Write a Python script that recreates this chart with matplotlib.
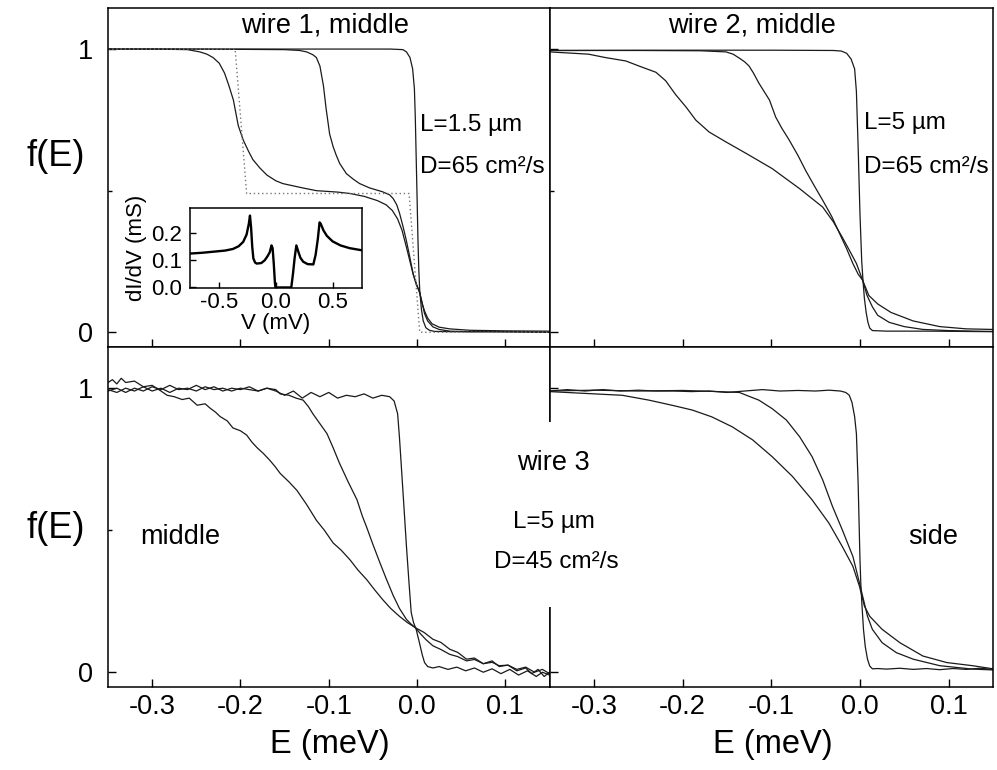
import matplotlib
matplotlib.use("Agg")
import matplotlib.pyplot as plt
from matplotlib.patches import Rectangle

plt.rcParams['font.family'] = ['Liberation Sans', 'DejaVu Sans']

# ---------------- data (E in meV, f(E)) ----------------
xticks = [-0.3, -0.2, -0.1, 0.0, 0.1]
xticklabels = ["-0.3", "-0.2", "-0.1", "0.0", "0.1"]

# wire 1, middle
w1_sharp = [(-0.35, 1.0), (-0.2, 1.0), (-0.1, 1.0), (-0.03, 1.0), (-0.016, 0.998), (-0.012, 0.99),
            (-0.008, 0.97), (-0.005, 0.93), (-0.003, 0.86), (-0.002, 0.76), (-0.001, 0.62), (0.0, 0.48),
            (0.001, 0.33), (0.002, 0.22), (0.003, 0.15), (0.005, 0.08), (0.007, 0.04), (0.01, 0.016),
            (0.014, 0.007), (0.02, 0.003), (0.04, 0.002), (0.08, 0.002), (0.15, 0.0)]
w1_mid = [(-0.35, 1.0), (-0.25, 1.0), (-0.15, 0.998), (-0.133, 0.995), (-0.125, 0.99), (-0.118, 0.98),
          (-0.114, 0.97), (-0.11, 0.94), (-0.106, 0.87), (-0.103, 0.79), (-0.099, 0.70), (-0.095, 0.655),
          (-0.0915, 0.625), (-0.0876, 0.596), (-0.08, 0.56), (-0.072, 0.54), (-0.065, 0.525), (-0.054, 0.51),
          (-0.039, 0.496), (-0.031, 0.485), (-0.027, 0.472), (-0.023, 0.45), (-0.0198, 0.42), (-0.016, 0.375),
          (-0.0122, 0.325), (-0.0085, 0.27), (-0.0047, 0.21), (-0.001, 0.17), (0.003, 0.14), (0.006, 0.1),
          (0.0085, 0.066), (0.012, 0.04), (0.018, 0.019), (0.025, 0.01), (0.037, 0.004), (0.06, 0.002),
          (0.1, 0.002), (0.15, 0.0)]
w1_broad = [(-0.35, 1.0), (-0.3, 1.0), (-0.26, 0.998), (-0.246, 0.99), (-0.238, 0.982), (-0.231, 0.97),
            (-0.224, 0.95), (-0.218, 0.915), (-0.213, 0.87), (-0.208, 0.82), (-0.2025, 0.73), (-0.197, 0.68),
            (-0.191, 0.64), (-0.186, 0.61), (-0.178, 0.58), (-0.17, 0.555), (-0.16, 0.535), (-0.152, 0.525),
            (-0.13, 0.51), (-0.114, 0.50), (-0.09, 0.495), (-0.076, 0.49), (-0.06, 0.48), (-0.045, 0.465),
            (-0.035, 0.45), (-0.028, 0.43), (-0.022, 0.40), (-0.017, 0.36), (-0.012, 0.30), (-0.008, 0.25),
            (-0.004, 0.20), (0.0, 0.165), (0.003, 0.14), (0.006, 0.1), (0.0085, 0.075), (0.012, 0.05),
            (0.017, 0.03), (0.025, 0.018), (0.037, 0.012), (0.06, 0.007), (0.1, 0.005), (0.15, 0.004)]
w1_theory = [(-0.35, 1.0), (-0.206, 1.0), (-0.193, 0.49), (-0.009, 0.49), (0.003, 0.0), (0.15, 0.0)]

# inset: dI/dV (mS) vs V (mV)
inset_dIdV = [(-0.76, 0.125), (-0.65, 0.128), (-0.55, 0.132), (-0.45, 0.136), (-0.38, 0.142), (-0.33, 0.152),
              (-0.29, 0.168), (-0.26, 0.195), (-0.24, 0.235), (-0.23, 0.265), (-0.22, 0.22), (-0.21, 0.15),
              (-0.2, 0.107), (-0.185, 0.092), (-0.17, 0.088), (-0.13, 0.09), (-0.1, 0.1), (-0.075, 0.115),
              (-0.055, 0.13), (-0.04, 0.155), (-0.03, 0.145), (-0.02, 0.09), (-0.01, 0.02), (-0.005, 0.0),
              (0.135, 0.0), (0.15, 0.05), (0.165, 0.11), (0.18, 0.155), (0.195, 0.135), (0.215, 0.11),
              (0.24, 0.095), (0.28, 0.086), (0.33, 0.085), (0.35, 0.12), (0.37, 0.18), (0.385, 0.24),
              (0.395, 0.235), (0.42, 0.21), (0.45, 0.19), (0.5, 0.17), (0.57, 0.155), (0.65, 0.145),
              (0.76, 0.137)]

# wire 2, middle
w2_sharp = [(-0.35, 0.995), (-0.2, 0.996), (-0.1, 0.996), (-0.03, 0.995), (-0.021, 0.993), (-0.015, 0.985),
            (-0.01, 0.965), (-0.006, 0.93), (-0.004, 0.85), (-0.002, 0.65), (0.0, 0.42), (0.002, 0.25),
            (0.0035, 0.18), (0.005, 0.12), (0.007, 0.07), (0.009, 0.035), (0.011, 0.015), (0.014, 0.006),
            (0.03, 0.004), (0.08, 0.004), (0.15, 0.002)]
w2_mid = [(-0.35, 0.995), (-0.25, 0.995), (-0.18, 0.994), (-0.151, 0.99), (-0.143, 0.982), (-0.136, 0.968),
          (-0.13, 0.955), (-0.125, 0.94), (-0.12, 0.915), (-0.114, 0.88), (-0.108, 0.85), (-0.102, 0.82),
          (-0.095, 0.76), (-0.088, 0.72), (-0.08, 0.68), (-0.07, 0.625), (-0.061, 0.57), (-0.052, 0.52),
          (-0.042, 0.466), (-0.032, 0.41), (-0.023, 0.349), (-0.015, 0.295), (-0.008, 0.243), (-0.002, 0.205),
          (0.003, 0.184), (0.008, 0.13), (0.014, 0.09), (0.02, 0.06), (0.033, 0.035), (0.05, 0.02),
          (0.071, 0.01), (0.1, 0.006), (0.127, 0.004), (0.15, 0.003)]
w2_broad = [(-0.35, 0.99), (-0.306, 0.982), (-0.287, 0.97), (-0.264, 0.958), (-0.249, 0.94), (-0.23, 0.918),
            (-0.219, 0.888), (-0.208, 0.84), (-0.196, 0.795), (-0.185, 0.749), (-0.17, 0.707), (-0.151, 0.672),
            (-0.128, 0.631), (-0.099, 0.578), (-0.068, 0.507), (-0.042, 0.442), (-0.03, 0.39), (-0.02, 0.336),
            (-0.012, 0.29), (-0.004, 0.243), (0.003, 0.184), (0.01, 0.13), (0.02, 0.1), (0.035, 0.07),
            (0.06, 0.04), (0.09, 0.02), (0.12, 0.012), (0.15, 0.01)]

# wire 3, middle
w3m_sharp = [(-0.35, 0.99), (-0.34, 1.0), (-0.33, 0.985), (-0.32, 1.0), (-0.31, 0.99), (-0.30, 1.005),
             (-0.29, 0.995), (-0.28, 1.01), (-0.27, 0.995), (-0.26, 1.0), (-0.25, 0.99), (-0.24, 1.005),
             (-0.23, 0.995), (-0.22, 1.0), (-0.21, 0.99), (-0.20, 1.0), (-0.19, 0.995), (-0.18, 0.99),
             (-0.17, 1.0), (-0.16, 0.99), (-0.15, 0.975), (-0.14, 0.99), (-0.13, 0.965), (-0.12, 0.985),
             (-0.11, 0.97), (-0.10, 0.985), (-0.09, 0.965), (-0.08, 0.975), (-0.07, 0.97), (-0.06, 0.98),
             (-0.05, 0.965), (-0.04, 0.975), (-0.031, 0.97), (-0.026, 0.955), (-0.022, 0.91), (-0.02, 0.83),
             (-0.018, 0.735), (-0.015, 0.59), (-0.012, 0.443), (-0.009, 0.31), (-0.0066, 0.21), (-0.004, 0.175),
             (-0.001, 0.151), (0.003, 0.1), (0.006, 0.06), (0.0085, 0.034), (0.012, 0.02), (0.018, 0.015),
             (0.025, 0.02), (0.035, 0.01), (0.045, 0.018), (0.055, 0.005), (0.065, 0.015), (0.075, 0.0),
             (0.085, 0.012), (0.095, -0.005), (0.105, 0.01), (0.115, -0.01), (0.125, 0.005), (0.135, -0.015),
             (0.142, 0.0), (0.15, -0.01)]
w3m_mid = [(-0.35, 0.995), (-0.34, 0.985), (-0.33, 1.0), (-0.32, 0.99), (-0.31, 1.005), (-0.30, 0.99),
           (-0.29, 1.0), (-0.28, 0.985), (-0.27, 1.0), (-0.26, 0.995), (-0.25, 1.01), (-0.24, 0.995),
           (-0.23, 1.005), (-0.22, 0.99), (-0.21, 1.0), (-0.20, 0.995), (-0.19, 1.005), (-0.18, 0.99),
           (-0.17, 1.0), (-0.16, 0.995), (-0.155, 0.98), (-0.145, 0.975), (-0.137, 0.965), (-0.129, 0.958),
           (-0.123, 0.935), (-0.118, 0.91), (-0.11, 0.875), (-0.102, 0.84), (-0.095, 0.79), (-0.088, 0.737),
           (-0.078, 0.67), (-0.068, 0.607), (-0.062, 0.55), (-0.057, 0.51), (-0.05, 0.45), (-0.042, 0.385),
           (-0.035, 0.33), (-0.027, 0.27), (-0.02, 0.225), (-0.012, 0.186), (-0.007, 0.17), (-0.002, 0.157),
           (0.004, 0.135), (0.01, 0.115), (0.018, 0.093), (0.027, 0.08), (0.037, 0.063), (0.046, 0.055),
           (0.056, 0.04), (0.065, 0.045), (0.075, 0.03), (0.085, 0.035), (0.093, 0.023), (0.103, 0.025),
           (0.113, 0.01), (0.123, 0.018), (0.133, 0.0), (0.142, 0.01), (0.15, -0.005)]
w3m_broad = [(-0.35, 1.02), (-0.345, 1.03), (-0.34, 1.015), (-0.335, 1.035), (-0.33, 1.02), (-0.32, 1.025),
             (-0.31, 1.005), (-0.30, 1.01), (-0.29, 0.99), (-0.283, 0.975), (-0.275, 0.97), (-0.266, 0.96),
             (-0.258, 0.965), (-0.249, 0.94), (-0.24, 0.945), (-0.2345, 0.93), (-0.228, 0.915), (-0.223, 0.90),
             (-0.215, 0.885), (-0.2085, 0.86), (-0.2, 0.85), (-0.193, 0.835), (-0.187, 0.81), (-0.181, 0.79),
             (-0.174, 0.77), (-0.167, 0.747), (-0.161, 0.725), (-0.155, 0.70), (-0.145, 0.67), (-0.136, 0.64),
             (-0.125, 0.59), (-0.114, 0.535), (-0.105, 0.50), (-0.095, 0.455), (-0.086, 0.43), (-0.076, 0.396),
             (-0.067, 0.36), (-0.057, 0.326), (-0.048, 0.29), (-0.039, 0.256), (-0.03, 0.225), (-0.02, 0.197),
             (-0.011, 0.175), (-0.002, 0.157), (0.008, 0.14), (0.018, 0.116), (0.027, 0.105), (0.037, 0.081),
             (0.046, 0.07), (0.056, 0.046), (0.065, 0.05), (0.075, 0.03), (0.085, 0.04), (0.093, 0.02),
             (0.103, 0.025), (0.113, 0.005), (0.123, 0.015), (0.13, -0.005), (0.137, 0.01), (0.144, -0.015),
             (0.15, 0.0)]

# wire 3, side
w3s_sharp = [(-0.35, 0.99), (-0.33, 0.995), (-0.31, 0.99), (-0.29, 0.995), (-0.27, 0.99), (-0.25, 0.993),
             (-0.23, 0.99), (-0.21, 0.99), (-0.19, 0.988), (-0.17, 0.99), (-0.15, 0.985), (-0.13, 0.99),
             (-0.11, 0.995), (-0.09, 0.99), (-0.07, 0.992), (-0.05, 0.99), (-0.035, 0.993), (-0.022, 0.99),
             (-0.016, 0.985), (-0.012, 0.975), (-0.009, 0.95), (-0.006, 0.9), (-0.004, 0.84), (-0.002, 0.66),
             (0.0, 0.4), (0.001, 0.31), (0.002, 0.25), (0.004, 0.15), (0.006, 0.09), (0.0085, 0.046),
             (0.011, 0.022), (0.014, 0.012), (0.02, 0.013), (0.03, 0.011), (0.045, 0.014), (0.06, 0.01),
             (0.075, 0.013), (0.09, 0.009), (0.105, 0.013), (0.12, 0.01), (0.135, 0.014), (0.15, 0.01)]
w3s_mid = [(-0.35, 0.99), (-0.3, 0.993), (-0.25, 0.99), (-0.2, 0.992), (-0.16, 0.988), (-0.136, 0.985),
           (-0.128, 0.975), (-0.114, 0.958), (-0.099, 0.928), (-0.083, 0.888), (-0.068, 0.829),
           (-0.054, 0.759), (-0.042, 0.677), (-0.031, 0.584), (-0.02, 0.502), (-0.008, 0.408),
           (-0.0006, 0.315), (0.0085, 0.197), (0.014, 0.151), (0.025, 0.104), (0.041, 0.069),
           (0.06, 0.046), (0.09, 0.023), (0.127, 0.011), (0.15, 0.008)]
w3s_broad = [(-0.35, 0.988), (-0.306, 0.981), (-0.268, 0.975), (-0.238, 0.958), (-0.212, 0.94), (-0.189, 0.923),
             (-0.167, 0.899), (-0.144, 0.864), (-0.121, 0.818), (-0.099, 0.759), (-0.076, 0.689),
             (-0.054, 0.607), (-0.035, 0.525), (-0.02, 0.443), (-0.008, 0.373), (-0.0006, 0.303),
             (0.005, 0.233), (0.011, 0.197), (0.025, 0.151), (0.045, 0.104), (0.071, 0.057), (0.098, 0.034),
             (0.127, 0.023), (0.15, 0.012)]

# ---------------- figure ----------------
W, H = 997, 770
fig = plt.figure(figsize=(W / 100, H / 100), dpi=100)


def box(x0, y0, x1, y1):
    return [x0 / W, 1 - y1 / H, (x1 - x0) / W, (y1 - y0) / H]


def fpos(x, y):
    return x / W, 1 - y / H


TICK_FS = 19.5
LINE_KW = dict(color='#1a1a1a', lw=0.9)

ax_tl = fig.add_axes(box(108, 8, 549.5, 347))
ax_tr = fig.add_axes(box(549.5, 8, 993, 347))
ax_bl = fig.add_axes(box(108, 347, 549.5, 687))
ax_br = fig.add_axes(box(549.5, 347, 993, 687))

panels = [(ax_tl, [w1_sharp, w1_mid, w1_broad]),
          (ax_tr, [w2_sharp, w2_mid, w2_broad]),
          (ax_bl, [w3m_sharp, w3m_mid, w3m_broad]),
          (ax_br, [w3s_sharp, w3s_mid, w3s_broad])]

for ax, curves in panels:
    for c in curves:
        ax.plot([p[0] for p in c], [p[1] for p in c], **LINE_KW)
    ax.set_xlim(-0.35, 0.15)
    ax.set_ylim(-0.052, 1.145)
    ax.set_xticks(xticks)
    ax.set_xticklabels(xticklabels)
    ax.set_yticks([0, 1])
    ax.set_yticklabels(["0", "1"])
    ax.set_yticks([0.5], minor=True)
    ax.tick_params(axis='x', direction='in', length=6, width=1, labelsize=TICK_FS, pad=5)
    ax.tick_params(axis='y', which='major', direction='in', length=6, width=1, labelsize=TICK_FS, pad=11)
    ax.tick_params(axis='y', which='minor', direction='in', length=3, width=1)
    for s in ax.spines.values():
        s.set_linewidth(1.1)

ax_tl.plot([p[0] for p in w1_theory], [p[1] for p in w1_theory], color='#777777', lw=1.0,
           linestyle=(0, (1, 2)))

for ax in (ax_tl, ax_tr):
    ax.tick_params(axis='x', labelbottom=False)
for ax in (ax_tr, ax_br):
    ax.tick_params(axis='y', labelleft=False)

# axis labels
fig.text(*fpos(56, 157), "f(E)", fontsize=26, ha='center', va='center')
fig.text(*fpos(56, 528), "f(E)", fontsize=26, ha='center', va='center')
fig.text(*fpos(330, 745), "E (meV)", fontsize=23.5, ha='center', va='center')
fig.text(*fpos(773, 745), "E (meV)", fontsize=23.5, ha='center', va='center')

# panel annotations
TITLE_FS = 19.5
PAR_FS = 17.5
fig.text(*fpos(325, 26), "wire 1, middle", fontsize=TITLE_FS, ha='center', va='center')
fig.text(*fpos(420, 125), "L=1.5 \u00b5m", fontsize=PAR_FS, ha='left', va='center')
fig.text(*fpos(420, 167), "D=65 cm\u00b2/s", fontsize=PAR_FS, ha='left', va='center')
fig.text(*fpos(752, 26), "wire 2, middle", fontsize=TITLE_FS, ha='center', va='center')
fig.text(*fpos(864, 123), "L=5 \u00b5m", fontsize=PAR_FS, ha='left', va='center')
fig.text(*fpos(864, 167), "D=65 cm\u00b2/s", fontsize=PAR_FS, ha='left', va='center')
fig.text(*fpos(140, 537), "middle", fontsize=TITLE_FS, ha='left', va='center')
fig.text(*fpos(908, 537), "side", fontsize=TITLE_FS, ha='left', va='center')

# centre annotation over the shared spine
gap = Rectangle(fpos(543, 607), 13 / W, (607 - 422) / H, transform=fig.transFigure,
                facecolor='white', edgecolor='none', zorder=3)
fig.add_artist(gap)
fig.text(*fpos(553, 463), "wire 3", fontsize=TITLE_FS, ha='center', va='center', zorder=4)
fig.text(*fpos(554, 522), "L=5 \u00b5m", fontsize=PAR_FS, ha='center', va='center', zorder=4)
fig.text(*fpos(556, 562), "D=45 cm\u00b2/s", fontsize=PAR_FS, ha='center', va='center', zorder=4)

# inset
ax_in = fig.add_axes(box(190, 208, 362, 288))
ax_in.plot([p[0] for p in inset_dIdV], [p[1] for p in inset_dIdV], color='black', lw=1.7)
ax_in.set_xlim(-0.76, 0.76)
ax_in.set_ylim(-0.002, 0.293)
ax_in.set_xticks([-0.5, 0.0, 0.5])
ax_in.set_xticklabels(["-0.5", "0.0", "0.5"])
ax_in.set_yticks([0.0, 0.1, 0.2])
ax_in.set_yticklabels(["0.0", "0.1", "0.2"])
ax_in.tick_params(direction='in', length=4, width=1, labelsize=16)
ax_in.tick_params(axis='x', pad=3)
ax_in.tick_params(axis='y', pad=6)
ax_in.set_xlabel("V (mV)", fontsize=16, labelpad=0)
ax_in.set_ylabel("dI/dV (mS)", fontsize=16, labelpad=3)
for s in ax_in.spines.values():
    s.set_linewidth(1.1)

fig.savefig("out.png", dpi=100)
